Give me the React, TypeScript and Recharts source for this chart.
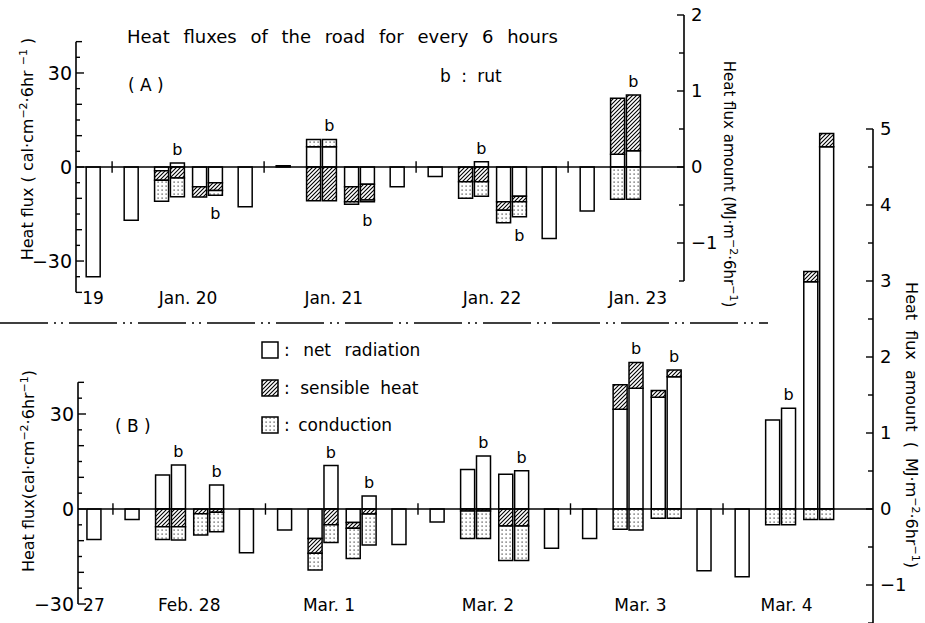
import React from 'react';
import { ComposedChart, Bar, XAxis, YAxis, ReferenceLine, Scatter } from 'recharts';

const FONT = '"DejaVu Sans", "Liberation Sans", sans-serif';

// ---------- Panel A : Jan. 19 - 23 (cal cm-2 6hr-1) ----------
const slotHourA = [-3, 3, 9, 9, 15, 15, 21, 27, 33, 33, 39, 39, 45, 51, 57, 57, 63, 63, 69, 75, 81, 81];
const surfaceA = ['one', 'one', 'road', 'rut', 'road', 'rut', 'one', 'one', 'road', 'rut', 'road', 'rut', 'one', 'one', 'road', 'rut', 'road', 'rut', 'one', 'one', 'road', 'rut'];
const netA = [-35, -17, -1.2, 1.3, -6.3, -5.0, -12.7, 0.4, 6.5, 6.5, -6.3, -5.5, -6.3, -3.0, 0, 1.7, -11.1, -9.3, -22.8, -14, 4.1, 5.2];
const sensA = [0, 0, -3.0, -3.5, -3.3, -2.5, 0, 0, -10.8, -10.8, -4.8, -5.0, 0, 0, -4.7, -4.7, -2.7, -1.8, 0, 0, 17.8, 17.8];
const condA = [0, 0, -6.7, -6.0, 0, -1.5, 0, 0, 2.3, 2.3, -0.8, -0.6, 0, 0, -5.3, -4.6, -4.0, -4.8, 0, 0, -10.3, -10.3];
const dayTicksA = [-3, 12, 35, 60, 83];
const dayLabelsA = ['19', 'Jan. 20', 'Jan. 21', 'Jan. 22', 'Jan. 23'];
const dayStartsA = [0, 24, 48, 72];
const xDomainA = [-5.7, 90.3];
const leftDomainA = [-40.2, 48.5];
const rightDomainA = [-1.658, 2];
const leftTicksA = [-40, -35, -30, -25, -20, -15, -10, -5, 0, 5, 10, 15, 20, 25, 30, 35, 40];
const rightTicksA = [-1.5, -1, -0.5, 0, 0.5, 1, 1.5, 2];

// ---------- Panel B : Feb. 27 - Mar. 4 ----------
const slotHourB = [-3, 3, 9, 9, 15, 15, 21, 27, 33, 33, 39, 39, 45, 51, 57, 57, 63, 63, 69, 75, 81, 81, 87, 87, 93, 99, 105, 105, 111, 111];
const surfaceB = ['one', 'one', 'road', 'rut', 'road', 'rut', 'one', 'one', 'road', 'rut', 'road', 'rut', 'one', 'one', 'road', 'rut', 'road', 'rut', 'one', 'one', 'road', 'rut', 'road', 'rut', 'one', 'one', 'road', 'rut', 'road', 'rut'];
const netB = [-9.6, -3.3, 10.7, 13.9, 0, 7.6, -13.8, -6.6, -9.3, 13.7, -4.3, 4.1, -11.2, -4.1, 12.5, 16.7, 11.0, 12.1, -12.4, -9.3, 31.5, 38.1, 35.3, 41.8, -19.5, -21.4, 28.1, 31.8, 71.8, 114.4];
const sensB = [0, 0, -5.6, -5.6, -1.5, -1.0, 0, 0, -4.7, -5.0, -1.8, -1.6, 0, 0, -0.6, -0.6, -5.4, -5.4, 0, 0, 7.7, 8.2, 2.1, 2.1, 0, 0, 0, 0, 3.2, 4.2];
const condB = [0, 0, -4.0, -4.2, -6.7, -6.2, 0, 0, -5.3, -5.6, -9.5, -9.8, 0, 0, -8.7, -8.7, -10.9, -10.9, 0, 0, -6.4, -6.6, -2.9, -2.9, 0, 0, -5.0, -5.0, -3.3, -3.3];
const dayTicksB = [-3, 12, 34, 59, 83, 106];
const dayLabelsB = ['27', 'Feb. 28', 'Mar. 1', 'Mar. 2', 'Mar. 3', 'Mar. 4'];
const dayStartsB = [0, 24, 48, 72, 96];
const xDomainB = [-5.5, 119.6];
const leftDomainB = [-36, 120];
const rightDomainB = [-1.5, 5];
const leftTicksB = [-30, -25, -20, -15, -10, -5, 0, 5, 10, 15, 20, 25, 30, 35, 40];
const rightTicksB = [-1.5, -1, -0.5, 0, 0.5, 1, 1.5, 2, 2.5, 3, 3.5, 4, 4.5, 5];

type Row = { x: number; net: number; sens: number; cond: number; bY: number | null; bUp: boolean };

const surfaceShift = (s: string) => (s === 'road' ? -1.2 : s === 'rut' ? 1.3 : 0);

function buildRows(hours: number[], surf: string[], net: number[], sens: number[], cond: number[]): Row[] {
  return hours.map((h, i) => {
    const vals = [net[i], sens[i], cond[i]];
    const pos = vals.filter((v) => v > 0).reduce((a, b) => a + b, 0);
    const neg = vals.filter((v) => v < 0).reduce((a, b) => a + b, 0);
    const isRut = surf[i] === 'rut';
    return {
      x: h + surfaceShift(surf[i]),
      net: net[i],
      sens: sens[i],
      cond: cond[i],
      bY: isRut ? (pos > 0 ? pos : neg) : null,
      bUp: pos > 0,
    };
  });
}

const rowsA = buildRows(slotHourA, surfaceA, netA, sensA, condA);
const rowsB = buildRows(slotHourB, surfaceB, netB, sensB, condB);

const fmt = (v: number) => (v < 0 ? '\u2212' + Math.abs(v) : String(v));

const makeLeftTick = (labels: number[]) => (props: any) => {
  const { x, y, payload } = props;
  const v = payload.value as number;
  const labeled = labels.includes(v);
  const len = labeled ? 8 : Math.abs(v % 10) < 1e-9 ? 6 : 4;
  return (
    <g>
      <line x1={x} x2={x + len} y1={y} y2={y} stroke="#000" strokeWidth={1.4} />
      {labeled && (
        <text x={x - 4} y={y} dy="0.36em" textAnchor="end" fontSize={19} fontFamily={FONT} fill="#000">
          {fmt(v)}
        </text>
      )}
    </g>
  );
};

const makeRightTick = () => (props: any) => {
  const { x, y, payload } = props;
  const v = payload.value as number;
  const labeled = Number.isInteger(v);
  const len = labeled ? 7 : 5;
  return (
    <g>
      <line x1={x} x2={x - len} y1={y} y2={y} stroke="#000" strokeWidth={1.4} />
      {labeled && (
        <text x={x + 7} y={y} dy="0.36em" textAnchor="start" fontSize={18} fontFamily={FONT} fill="#000">
          {fmt(v)}
        </text>
      )}
    </g>
  );
};

const makeXTick = (ticks: number[], labels: string[], dy: number) => (props: any) => {
  const { x, y, payload } = props;
  const i = ticks.indexOf(payload.value);
  return (
    <text x={x} y={y + dy} textAnchor="middle" fontSize={17} fontFamily={FONT} fill="#000">
      {i >= 0 ? labels[i] : ''}
    </text>
  );
};

const BShape = (props: any) => {
  const { cx, cy, payload } = props;
  if (!payload || payload.bY == null || !isFinite(cx) || !isFinite(cy)) return <g />;
  return (
    <text x={cx} y={payload.bUp ? cy - 8 : cy + 24} textAnchor="middle" fontSize={16} fontFamily={FONT} fill="#000">
      b
    </text>
  );
};

const barProps = { stackId: 's', yAxisId: 'left', barSize: 14, stroke: '#000', strokeWidth: 1.5, isAnimationActive: false } as const;

function Panel(props: {
  rows: Row[];
  height: number;
  margin: { top: number; right: number; bottom: number; left: number };
  xDomain: number[];
  leftDomain: number[];
  rightDomain: number[];
  leftTicks: number[];
  rightTicks: number[];
  leftLabels: number[];
  leftAxisRange: number[];
  rightAxisRange: number[];
  dayTicks: number[];
  dayLabels: string[];
  dayStarts: number[];
  xLabelDy: number;
}) {
  const p = props;
  return (
    <ComposedChart width={925} height={p.height} data={p.rows} margin={p.margin} stackOffset="sign">
      <XAxis
        type="number"
        dataKey="x"
        domain={p.xDomain}
        ticks={p.dayTicks}
        interval={0}
        allowDataOverflow
        height={1}
        axisLine={false}
        tickLine={false}
        tickSize={0}
        tickMargin={0}
        tick={makeXTick(p.dayTicks, p.dayLabels, p.xLabelDy)}
      />
      <YAxis
        yAxisId="left"
        orientation="left"
        type="number"
        domain={p.leftDomain}
        ticks={p.leftTicks}
        interval={0}
        allowDataOverflow
        width={1}
        axisLine={false}
        tickLine={false}
        tickSize={0}
        tickMargin={0}
        tick={makeLeftTick(p.leftLabels)}
      />
      <YAxis
        yAxisId="right"
        orientation="right"
        type="number"
        domain={p.rightDomain}
        ticks={p.rightTicks}
        interval={0}
        allowDataOverflow
        width={1}
        axisLine={false}
        tickLine={false}
        tickSize={0}
        tickMargin={0}
        tick={makeRightTick()}
      />
      <ReferenceLine yAxisId="left" y={0} stroke="#000" strokeWidth={1.4} />
      <ReferenceLine
        yAxisId="left"
        segment={[{ x: p.xDomain[0], y: p.leftAxisRange[0] }, { x: p.xDomain[0], y: p.leftAxisRange[1] }]}
        stroke="#000"
        strokeWidth={1.6}
      />
      <ReferenceLine
        yAxisId="right"
        segment={[{ x: p.xDomain[1], y: p.rightAxisRange[0] }, { x: p.xDomain[1], y: p.rightAxisRange[1] }]}
        stroke="#000"
        strokeWidth={1.6}
      />
      {p.dayStarts.map((d) => (
        <ReferenceLine key={d} yAxisId="left" segment={[{ x: d, y: -1.8 }, { x: d, y: 1.8 }]} stroke="#000" strokeWidth={1.4} />
      ))}
      <Bar dataKey="net" fill="#fff" {...barProps} />
      <Bar dataKey="sens" fill="url(#hatchPat)" {...barProps} />
      <Bar dataKey="cond" fill="url(#dotPat)" {...barProps} />
      <Scatter yAxisId="left" data={p.rows.filter((r) => r.bY != null)} dataKey="bY" shape={BShape} isAnimationActive={false} />
    </ComposedChart>
  );
}

// text parts: [string, isSuperscript]
type Part = [string, boolean];
const unitTitle = (parts: Part[]) => {
  let prevSup = false;
  return parts.map(([s, sup], i) => {
    const dy = sup && !prevSup ? -6 : !sup && prevSup ? 6 : 0;
    prevSup = sup;
    return (
      <tspan key={i} dy={dy} fontSize={sup ? 11 : undefined}>
        {s}
      </tspan>
    );
  });
};

export default function App() {
  return (
    <div style={{ position: 'absolute', left: 0, top: 0, width: 925, height: 623, background: '#fff', overflow: 'hidden' }}>
      <svg width={0} height={0} style={{ position: 'absolute' }}>
        <defs>
          <pattern id="hatchPat" patternUnits="userSpaceOnUse" width={4} height={4}>
            <rect width={4} height={4} fill="#fff" />
            <path d="M-1,1 L1,-1 M0,4 L4,0 M3,5 L5,3" stroke="#000" strokeWidth={1.1} />
          </pattern>
          <pattern id="dotPat" patternUnits="userSpaceOnUse" width={4} height={4}>
            <rect width={4} height={4} fill="#fff" />
            <rect x={1.5} y={1.5} width={1.2} height={1.2} fill="#333" />
          </pattern>
        </defs>
      </svg>
      <div style={{ position: 'absolute', left: 0, top: 0 }}>
        <Panel
          rows={rowsA}
          height={330}
          margin={{ top: 15, right: 240, bottom: 36, left: 75 }}
          xDomain={xDomainA}
          leftDomain={leftDomainA}
          rightDomain={rightDomainA}
          leftTicks={leftTicksA}
          rightTicks={rightTicksA}
          leftLabels={[-30, 0, 30]}
          leftAxisRange={[-40, 40]}
          rightAxisRange={[-1.5, 2]}
          dayTicks={dayTicksA}
          dayLabels={dayLabelsA}
          dayStarts={dayStartsA}
          xLabelDy={11}
        />
      </div>
      <div style={{ position: 'absolute', left: 0, top: 0 }}>
        <Panel
          rows={rowsB}
          height={624}
          margin={{ top: 129, right: 51, bottom: 0, left: 77 }}
          xDomain={xDomainB}
          leftDomain={leftDomainB}
          rightDomain={rightDomainB}
          leftTicks={leftTicksB}
          rightTicks={rightTicksB}
          leftLabels={[-30, 0, 30]}
          leftAxisRange={[-30, 40]}
          rightAxisRange={[-1.5, 5]}
          dayTicks={dayTicksB}
          dayLabels={dayLabelsB}
          dayStarts={dayStartsB}
          xLabelDy={-12}
        />
      </div>
      <svg width={925} height={623} style={{ position: 'absolute', left: 0, top: 0, pointerEvents: 'none' }} fontFamily={FONT} fill="#000">
        <text x={127} y={43} fontSize={18} wordSpacing={8}>Heat fluxes of the road for every 6 hours</text>
        <text x={128} y={91} fontSize={17}>( A )</text>
        <text x={440} y={82} fontSize={17} wordSpacing={5}>b : rut</text>
        <text x={115} y={432} fontSize={17}>( B )</text>

        <rect x={262} y={342} width={16} height={16} fill="#fff" stroke="#000" strokeWidth={1.5} />
        <text x={284} y={356} fontSize={17} wordSpacing={8}>: net radiation</text>
        <rect x={262} y={380} width={16} height={16} fill="url(#hatchPat)" stroke="#000" strokeWidth={1.5} />
        <text x={284} y={394} fontSize={17} wordSpacing={5}>: sensible heat</text>
        <rect x={262} y={417} width={16} height={16} fill="url(#dotPat)" stroke="#000" strokeWidth={1.5} />
        <text x={284} y={431} fontSize={17} wordSpacing={3}>: conduction</text>

        <text transform="translate(33,149) rotate(-90)" textAnchor="middle" fontSize={16}>
          {unitTitle([['Heat flux ( cal·cm', false], ['−2', true], ['·6hr ', false], ['−1', true], [' )', false]])}
        </text>
        <text transform="translate(34,471) rotate(-90)" textAnchor="middle" fontSize={16}>
          {unitTitle([['Heat flux(cal·cm', false], ['−2', true], ['·6hr', false], ['−1', true], [')', false]])}
        </text>
        <text transform="translate(724,184) rotate(90)" textAnchor="middle" fontSize={15}>
          {unitTitle([['Heat flux amount (MJ·m', false], ['−2', true], ['·6hr', false], ['−1', true], [')', false]])}
        </text>
        <text transform="translate(906,425) rotate(90)" textAnchor="middle" fontSize={16} wordSpacing={5}>
          {unitTitle([['Heat flux amount ( MJ·m', false], ['−2', true], ['·6hr', false], ['−1', true], [')', false]])}
        </text>

        <line x1={0} x2={768} y1={323} y2={323} stroke="#000" strokeWidth={1.3} strokeDasharray="48 6 2 5 2 6" />
      </svg>
    </div>
  );
}
